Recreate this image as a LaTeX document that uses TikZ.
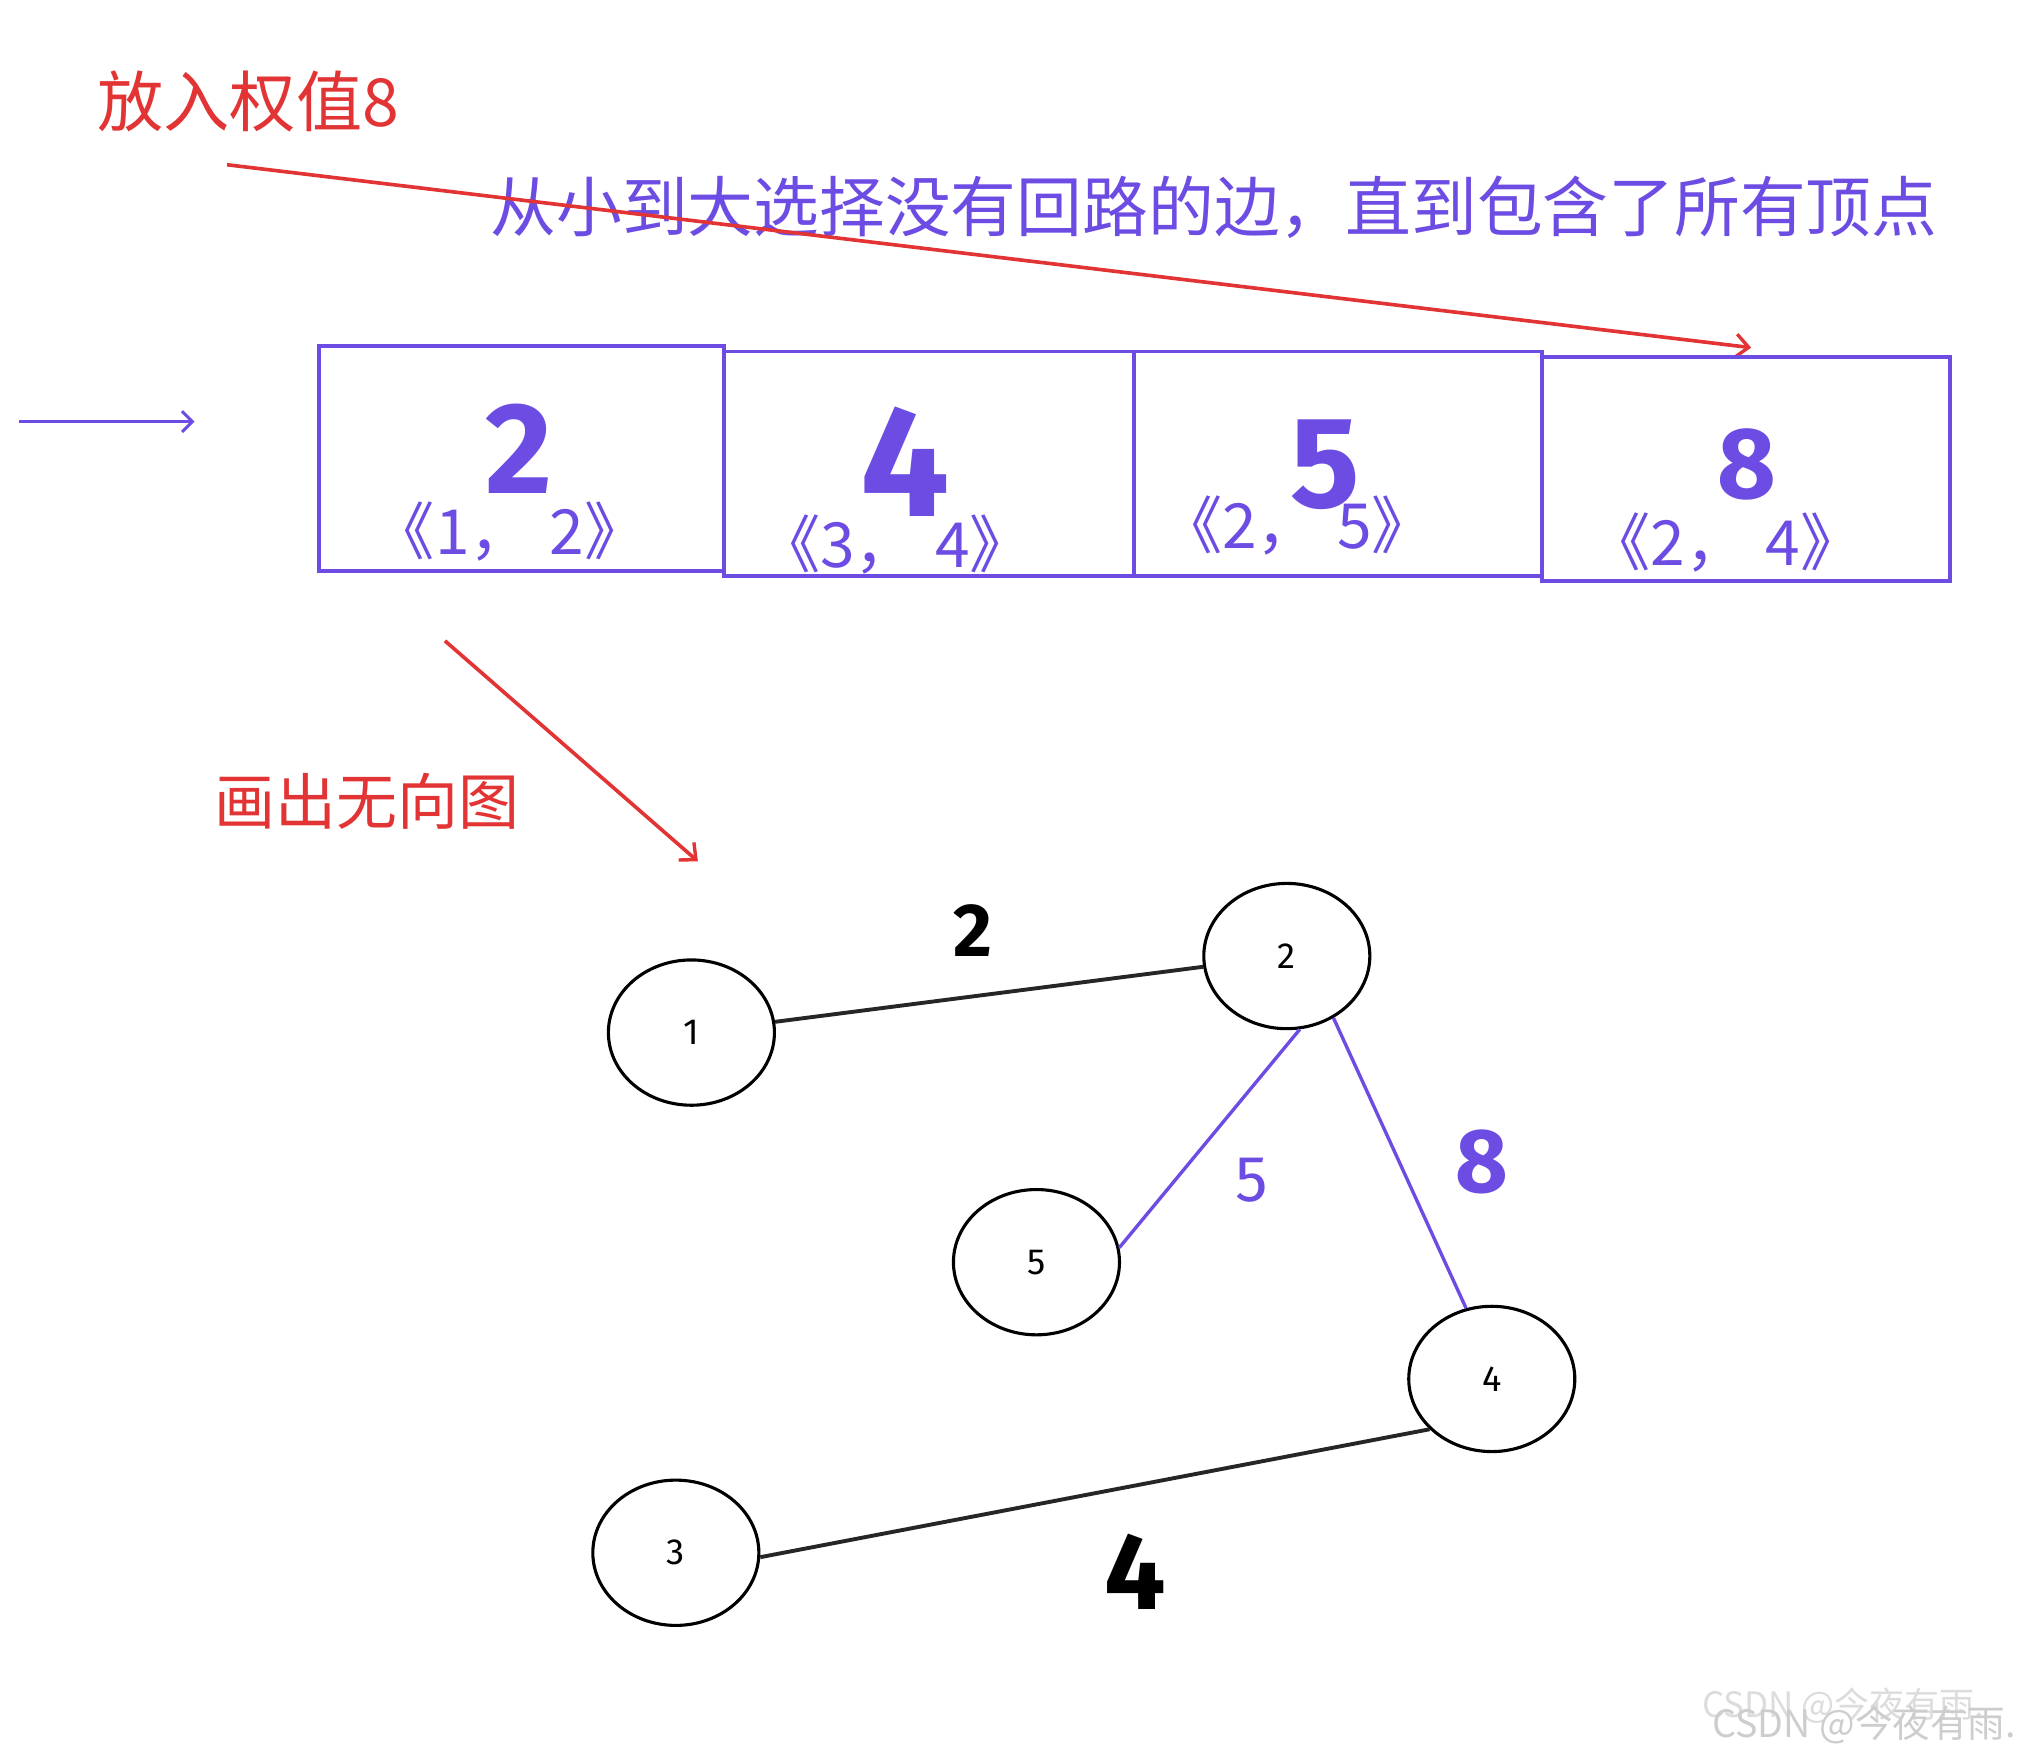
\documentclass[tikz,border=0pt]{standalone}
\usepackage{fontspec}
\usetikzlibrary{arrows.meta,shapes.geometric}
\newfontfamily\cjk{Noto Sans CJK SC}
\newfontfamily\digit{Fira Sans}
\definecolor{vio}{RGB}{108,76,226}
\definecolor{rd}{RGB}{226,52,52}
\definecolor{wm}{RGB}{205,205,205}
\tikzset{
  cell/.style={draw=vio,line width=3pt,rectangle,inner sep=0pt},
  vert/.style={draw=black,line width=2.4pt,ellipse,minimum width=128pt,minimum height=112pt,inner sep=0pt,font=\digit\fontsize{28}{28}\selectfont},
  bigdig/.style={text=vio,font=\digit\bfseries\fontsize{#1}{#1}\selectfont,inner sep=0pt},
  pair/.style={text=vio,font=\cjk\fontsize{48}{48}\selectfont,inner sep=0pt},
  redtxt/.style={text=rd,font=\cjk\fontsize{#1}{#1}\selectfont,inner sep=0pt},
  redarrow/.style={draw=rd,line width=2.8pt,-{Straight Barb[length=10pt,width=18pt,line width=2.6pt]}},
  blackedge/.style={draw=black!85,line width=3pt},
  violedge/.style={draw=vio,line width=2.6pt},
}
\begin{document}
\begin{tikzpicture}[x=1pt,y=-1pt]
\useasboundingbox (0,0) rectangle (1568,1358);
% top texts
\node[redtxt=51,anchor=west] (t1) at (75,78) {放入权值8};
\node[text=vio,font=\cjk\fontsize{50.7}{50.7}\selectfont,inner sep=0pt,anchor=west] (t2) at (378,160) {从小到大选择没有回路的边，直到包含了所有顶点};
% red arrow to last box
\coordinate (ra1) at (175,127);
\coordinate (ra2) at (1350,268);
\draw[redarrow] (ra1) -- (ra2);
% left violet arrow
\coordinate (va1) at (15,325);
\coordinate (va2) at (150,325);
\draw[draw=vio,line width=2.4pt,-{Straight Barb[length=8pt,width=16pt,line width=2.4pt]}] (va1) -- (va2);
% boxes
\node[cell,minimum width=312pt,minimum height=173pt] (b1) at (402,353.5) {};
\node[cell,minimum width=316pt,minimum height=173pt] (b2) at (716,357.5) {};
\node[cell,minimum width=315pt,minimum height=173pt] (b3) at (1031.5,357.5) {};
\node[cell,minimum width=314pt,minimum height=173pt] (b4) at (1346,361.5) {};
% big digits
\node[bigdig=100] (d1) at (400,346) {2};
\node[bigdig=122] (d2) at (698,356) {4};
\node[bigdig=100] (d3) at (1022,358) {5};
\node[bigdig=78] (d4) at (1347,358) {8};
% pairs
\node[pair] (p1) at (393,410) {《1，\hspace{14pt}2》};
\node[pair] (p2) at (690,420) {《3，\hspace{14pt}4》};
\node[pair] (p3) at (1000,405) {《2，\hspace{14pt}5》};
\node[pair] (p4) at (1330,418) {《2，\hspace{14pt}4》};
% red arrow down and text
\coordinate (rb1) at (343,494);
\coordinate (rb2) at (538,664);
\draw[redarrow] (rb1) -- (rb2);
\node[redtxt=47,anchor=west] (t3) at (165,618) {画出无向图};
% graph
\node[vert] (n1) at (533,796) {1};
\node[vert] (n2) at (992,737) {2};
\node[vert] (n5) at (799,973) {5};
\node[vert] (n4) at (1150,1063) {4};
\node[vert] (n3) at (521,1197) {3};
\draw[blackedge] (n1) -- (n2);
\draw[violedge] (n2.-80) -- (n5.10);
\draw[violedge] (n2.-53) -- (n4.110);
\draw[blackedge] (n3.-3) -- (n4.-141);
% edge labels
\node[inner sep=0pt,font=\digit\bfseries\fontsize{58}{58}\selectfont] (e12) at (750,717) {2};
\node[inner sep=0pt,text=vio,font=\digit\fontsize{50}{50}\selectfont] (e25) at (965,910) {5};
\node[inner sep=0pt,text=vio,font=\digit\bfseries\fontsize{70}{70}\selectfont] (e24) at (1142,896) {8};
\node[inner sep=0pt,font=\digit\bfseries\fontsize{84}{84}\selectfont] (e34) at (875,1212) {4};
% watermark
\node[inner sep=0pt,anchor=west,text=wm!70,font=\cjk\fontsize{27}{27}\selectfont] (w1) at (1312,1315) {CSDN @今夜有雨.};
\node[inner sep=0pt,anchor=west,text=wm,font=\cjk\fontsize{29}{29}\selectfont] (w2) at (1320,1330) {CSDN @今夜有雨.};
\end{tikzpicture}
\end{document}
